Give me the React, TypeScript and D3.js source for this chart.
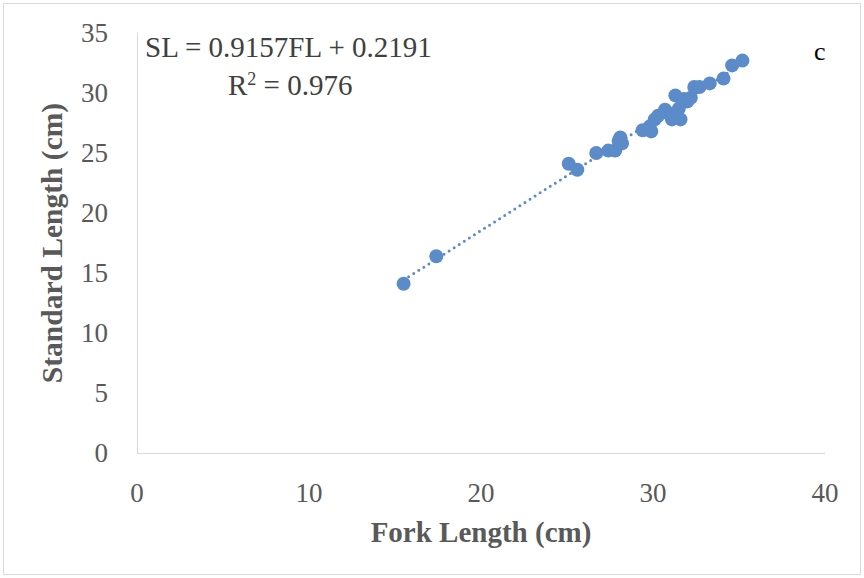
import React, { useEffect, useRef } from 'react';
import * as d3 from 'd3';

// fork length (cm) and standard length (cm) for each fish
const forkLength = [
  15.5, 17.4, 25.1, 25.6, 26.7, 27.4, 27.8, 28.0, 28.1, 28.2, 29.4, 29.8, 29.9, 30.1,
  30.3, 30.7, 30.9, 31.1, 31.3, 31.5, 31.6, 31.8, 32.0, 32.2, 32.4, 32.7, 33.3, 34.1,
  34.6, 35.2,
];
const standardLength = [
  14.1, 16.4, 24.1, 23.6, 25.0, 25.2, 25.2, 26.0, 26.3, 25.8, 26.9, 27.2, 26.8, 27.8,
  28.1, 28.6, 28.3, 27.8, 29.8, 28.7, 27.8, 29.5, 29.3, 29.6, 30.5, 30.5, 30.8, 31.2,
  32.3, 32.7,
];
const xTicks = [0, 10, 20, 30, 40];
const yTicks = [0, 5, 10, 15, 20, 25, 30, 35];
const slope = 0.9157;
const intercept = 0.2191;

const W = 864;
const H = 578;
const FONT = '"Liberation Serif", "Times New Roman", serif';

export default function App() {
  const ref = useRef<SVGSVGElement>(null);

  useEffect(() => {
    const svg = d3.select(ref.current);
    svg.selectAll('*').remove();

    const x = d3.scaleLinear().domain([0, 40]).range([137, 825]);
    const y = d3.scaleLinear().domain([0, 35]).range([453, 33]);

    svg
      .append('rect')
      .attr('x', 3.5)
      .attr('y', 3.5)
      .attr('width', W - 7)
      .attr('height', H - 7)
      .attr('fill', '#fff')
      .attr('stroke', '#d9d9d9');

    // axes lines
    svg
      .append('line')
      .attr('x1', x(0))
      .attr('x2', x(40))
      .attr('y1', y(0) + 0.5)
      .attr('y2', y(0) + 0.5)
      .attr('stroke', '#d9d9d9');
    svg
      .append('line')
      .attr('x1', x(0) + 0.5)
      .attr('x2', x(0) + 0.5)
      .attr('y1', y(0))
      .attr('y2', y(35))
      .attr('stroke', '#d9d9d9');

    svg
      .selectAll('.xt')
      .data(xTicks)
      .enter()
      .append('text')
      .attr('x', d => x(d))
      .attr('y', 502)
      .attr('text-anchor', 'middle')
      .attr('font-family', FONT)
      .attr('font-size', 27)
      .attr('fill', '#595959')
      .text(d => d);

    svg
      .selectAll('.yt')
      .data(yTicks)
      .enter()
      .append('text')
      .attr('x', 108)
      .attr('y', d => y(d) + 9)
      .attr('text-anchor', 'end')
      .attr('font-family', FONT)
      .attr('font-size', 27)
      .attr('fill', '#595959')
      .text(d => d);

    // axis titles
    svg
      .append('text')
      .attr('x', 481)
      .attr('y', 542)
      .attr('text-anchor', 'middle')
      .attr('font-family', FONT)
      .attr('font-size', 29)
      .attr('font-weight', 'bold')
      .attr('fill', '#595959')
      .text('Fork Length (cm)');
    svg
      .append('text')
      .attr('transform', 'translate(62,243) rotate(-90)')
      .attr('text-anchor', 'middle')
      .attr('font-family', FONT)
      .attr('font-size', 29.5)
      .attr('font-weight', 'bold')
      .attr('fill', '#595959')
      .text('Standard Length (cm)');

    // linear trendline
    const fx = d3.extent(forkLength) as [number, number];
    svg
      .append('line')
      .attr('x1', x(fx[0]))
      .attr('y1', y(slope * fx[0] + intercept))
      .attr('x2', x(fx[1]))
      .attr('y2', y(slope * fx[1] + intercept))
      .attr('stroke', '#5b8bc9')
      .attr('stroke-width', 3)
      .attr('stroke-linecap', 'round')
      .attr('stroke-dasharray', '0 6');

    svg
      .selectAll('.pt')
      .data(forkLength)
      .enter()
      .append('circle')
      .attr('cx', d => x(d))
      .attr('cy', (d, i) => y(standardLength[i]))
      .attr('r', 7)
      .attr('fill', '#5b8bc9');

    // equation
    svg
      .append('text')
      .attr('x', 145)
      .attr('y', 57)
      .attr('font-family', FONT)
      .attr('font-size', 29)
      .attr('fill', '#404040')
      .text(`SL = ${slope}FL  + ${intercept}`);
    const r2 = svg
      .append('text')
      .attr('x', 228)
      .attr('y', 95)
      .attr('font-family', FONT)
      .attr('font-size', 29)
      .attr('fill', '#404040');
    r2.append('tspan').text('R');
    r2.append('tspan').attr('font-size', 18).attr('dy', -10).text('2');
    r2.append('tspan').attr('dy', 10).text(' = 0.976');

    svg
      .append('text')
      .attr('x', 814)
      .attr('y', 60)
      .attr('font-family', FONT)
      .attr('font-size', 26)
      .attr('fill', '#000')
      .text('c');
  }, []);

  return (
    <svg
      ref={ref}
      width={W}
      height={H}
      style={{ position: 'absolute', left: 0, top: 0 }}
    />
  );
}
